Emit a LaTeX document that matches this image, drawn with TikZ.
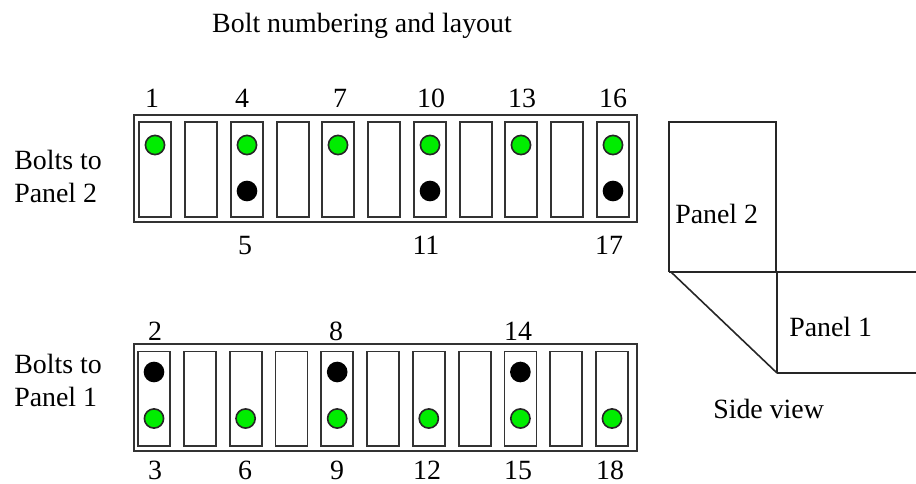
\documentclass[tikz,border=0pt]{standalone}
\usepackage{fontspec}
\setmainfont{Liberation Serif}
\definecolor{boltgreen}{rgb}{0,0.93,0}
\tikzset{
  x=0.75pt,y=-0.75pt,
  frame/.style={draw=black!80,line width=1.35pt,fill=white},
  greenbolt/.style={circle,draw=black!85,line width=1.2pt,fill=boltgreen,minimum size=14.4pt,inner sep=0pt},
  blackbolt/.style={circle,fill=black,minimum size=15.5pt,inner sep=0pt},
  lbl/.style={font=\fontsize{20.9}{25}\selectfont,inner sep=0pt,text depth=0pt},
  plbl/.style={lbl,align=left,anchor=west},
  panel/.style={draw=black!85,line width=1.2pt}
}
\begin{document}
\begin{tikzpicture}
\useasboundingbox (0,0) rectangle (916,483);
\node[lbl,anchor=center] (title) at (362,23) {Bolt numbering and layout};
\draw[frame] (134,115) rectangle (637,222);
\draw[frame] (134,344) rectangle (637,451);
\foreach \cx in {155,201,247,293,338,384,430,476,521,567,613}{
  \draw[frame] (\cx-16,122) rectangle (\cx+16,217);
}
\foreach \cx in {154,199.8,245.6,291.4,337.2,383,428.8,474.6,520.4,566.2,612}{
  \draw[frame] (\cx-16,351.5) rectangle (\cx+16,446);
}
\foreach \cx/\n in {155/a,247/b,338/c,430/d,521/e,613/f}{
  \node[greenbolt] (u\n) at (\cx,145) {};
}
\foreach \cx/\n in {154/a,245.6/b,337.2/c,428.8/d,520.4/e,612/f}{
  \node[greenbolt] (l\n) at (\cx,418.5) {};
}
\foreach \cx/\n in {247/a,430/b,613/c}{
  \node[blackbolt] (ub\n) at (\cx,191) {};
}
\foreach \cx/\n in {154/a,337.2/b,520.4/c}{
  \node[blackbolt] (lb\n) at (\cx,372) {};
}
\foreach \cx/\t in {152/1,242/4,340/7,431/10,522/13,613/16}{
  \node[lbl] (t\t) at (\cx,98) {\t};
}
\foreach \cx/\t in {245/5,426/11,609/17}{
  \node[lbl] (t\t) at (\cx,245) {\t};
}
\foreach \cx/\t in {155/2,336/8,518/14}{
  \node[lbl] (t\t) at (\cx,331) {\t};
}
\foreach \cx/\t in {155/3,245/6,337/9,427/12,518/15,610/18}{
  \node[lbl] (t\t) at (\cx,470) {\t};
}
\node[plbl] (bp2) at (14,176) {Bolts to\\Panel 2};
\node[plbl] (bp1) at (14,380) {Bolts to\\Panel 1};
\draw[panel] (669,272) -- (669,122) -- (776,122) -- (776,272);
\draw[panel] (669,272) -- (916,272);
\draw[panel] (671,272) -- (777,373);
\draw[panel,line width=1.9pt] (777,272) -- (777,373);
\draw[panel] (777,373) -- (916,373);
\node[plbl] (p2) at (675,214) {Panel 2};
\node[plbl] (p1) at (789,327) {Panel 1};
\node[plbl] (sv) at (713,409) {Side view};
\end{tikzpicture}
\end{document}
